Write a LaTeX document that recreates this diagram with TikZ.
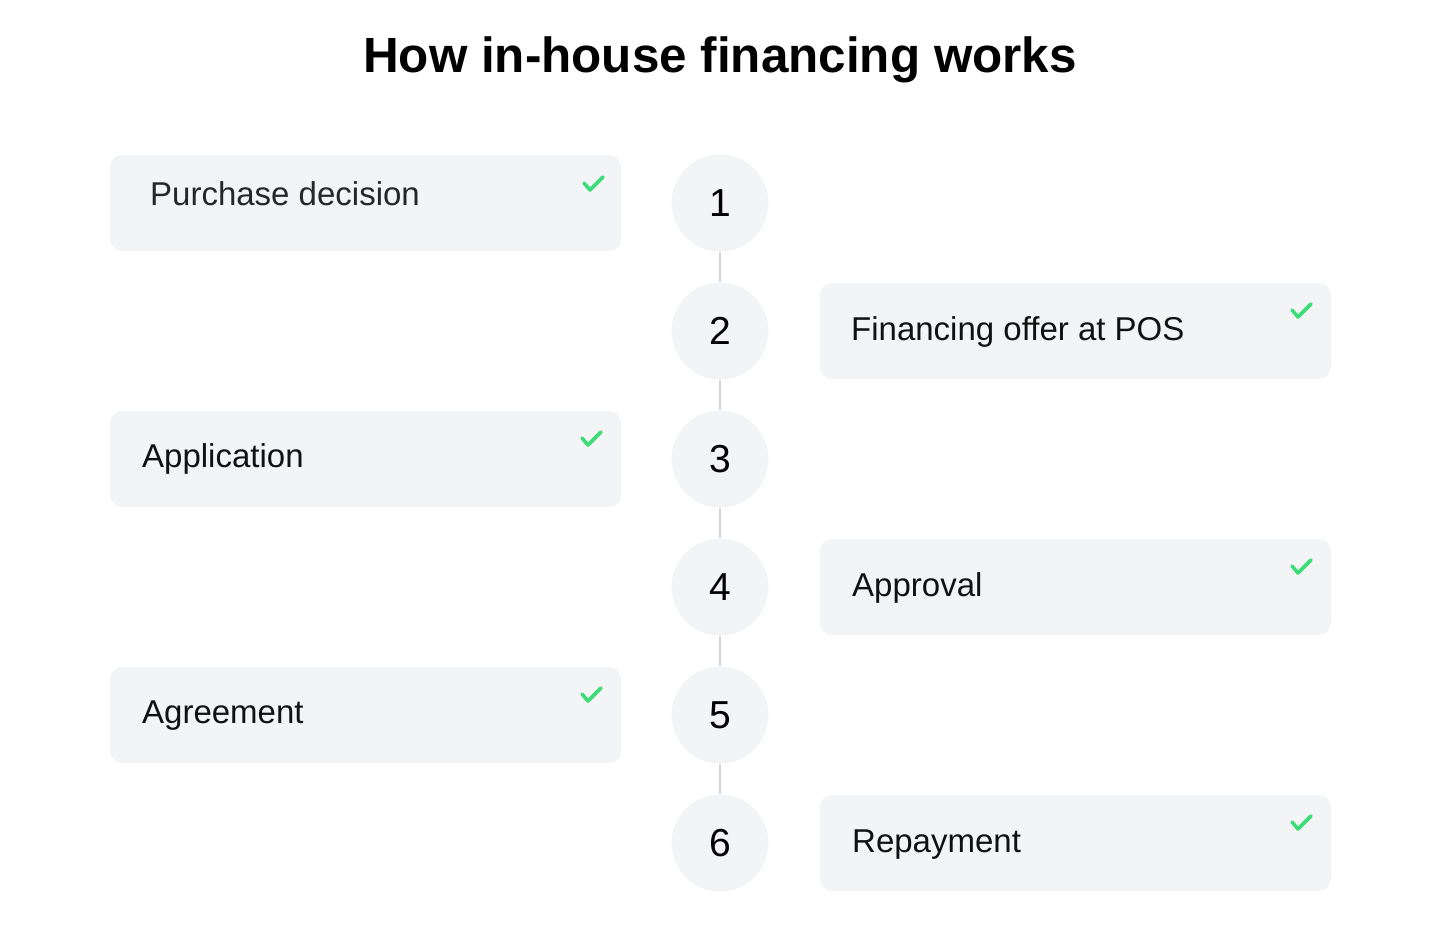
\documentclass[tikz,border=0pt]{standalone}
\usepackage{fontspec}
\setmainfont{Liberation Sans}
\definecolor{boxgray}{HTML}{F3F4F6}
\definecolor{linegray}{HTML}{D4D4D4}
\definecolor{checkgreen}{RGB}{61,220,120}
\definecolor{txt}{HTML}{111111}
\tikzset{
  stepbox/.style={fill=boxgray, draw=none, rounded corners=12pt, minimum width=511pt, minimum height=96pt, inner sep=0pt},
  numcircle/.style={circle, fill=boxgray, draw=none, minimum size=97pt, inner sep=0pt, font=\fontsize{39}{39}\selectfont, text=black},
  boxlabel/.style={anchor=base west, inner sep=0pt, font=\fontsize{33}{33}\selectfont, text=txt},
  link/.style={draw=linegray, line width=2pt},
  tick/.style={draw=checkgreen, line width=3.6pt, line cap=round, line join=round}
}
\begin{document}
\begin{tikzpicture}[x=1pt,y=-1pt]
\useasboundingbox (0,0) rectangle (1440,942);
\fill[white] (0,0) rectangle (1440,942);
\node[anchor=base, inner sep=0pt, font=\bfseries\fontsize{49.4}{49.4}\selectfont] (title) at (720,72) {How in-house financing works};

% number circles
\node[numcircle] (c1) at (720,203) {1};
\node[numcircle] (c2) at (720,331) {2};
\node[numcircle] (c3) at (720,459) {3};
\node[numcircle] (c4) at (720,587) {4};
\node[numcircle] (c5) at (720,715) {5};
\node[numcircle] (c6) at (720,843) {6};
\draw[link] (c1) -- (c2);
\draw[link] (c2) -- (c3);
\draw[link] (c3) -- (c4);
\draw[link] (c4) -- (c5);
\draw[link] (c5) -- (c6);

% boxes
\node[stepbox] (b1) at (365.5,203) {};
\node[stepbox] (b2) at (1075.5,331) {};
\node[stepbox] (b3) at (365.5,459) {};
\node[stepbox] (b4) at (1075.5,587) {};
\node[stepbox] (b5) at (365.5,715) {};
\node[stepbox] (b6) at (1075.5,843) {};

% labels
\node[boxlabel, text=black!85] (l1) at (150,205) {Purchase decision};
\node[boxlabel] (l2) at (851,340) {Financing offer at POS};
\node[boxlabel] (l3) at (142,467) {Application};
\node[boxlabel] (l4) at (852,596) {Approval};
\node[boxlabel] (l5) at (142,723) {Agreement};
\node[boxlabel] (l6) at (852,852) {Repayment};

% check marks
\draw[tick] (584,183) -- (590,190) -- (603,177);
\draw[tick] (1292,310) -- (1298,317) -- (1311,304);
\draw[tick] (582,438) -- (588,445) -- (601,432);
\draw[tick] (1292,566) -- (1298,573) -- (1311,560);
\draw[tick] (582,694) -- (588,701) -- (601,688);
\draw[tick] (1292,822) -- (1298,829) -- (1311,816);
\end{tikzpicture}
\end{document}
